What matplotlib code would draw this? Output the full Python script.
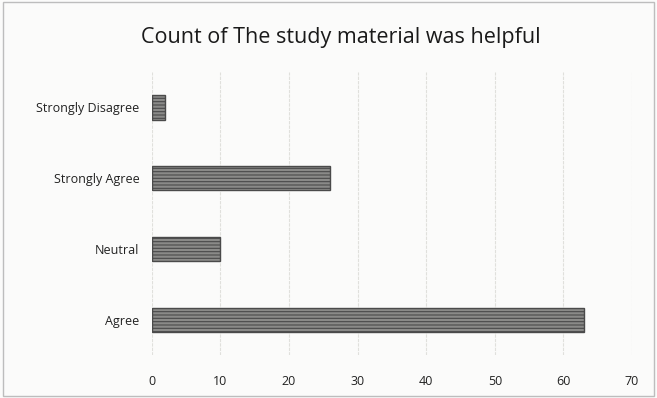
import numpy as np
import matplotlib.pyplot as plt
from matplotlib.patches import Rectangle

plt.rcParams['font.family'] = ['Open Sans', 'DejaVu Sans']
plt.rcParams['hatch.color'] = '#b4b4b0'
plt.rcParams['hatch.linewidth'] = 0.8

# respuestas y conteos
categorias = ['Agree', 'Neutral', 'Strongly Agree', 'Strongly Disagree']
conteos = [63, 10, 26, 2]
ticks_x = [0, 10, 20, 30, 40, 50, 60, 70]

fig = plt.figure(figsize=(6.57, 3.98), dpi=100)
fig.patch.set_facecolor('#fbfbfa')
ax = fig.add_axes([0.231, 0.107, 0.731, 0.713])
ax.set_facecolor('#fbfbfa')

y = np.arange(len(categorias))
ax.barh(y, conteos, height=0.35, color='#8a8a88', edgecolor='#4a4a4a',
        linewidth=1.0, hatch='-----')

ax.set_xlim(0, 70)
ax.set_ylim(-0.5, 3.5)
ax.set_xticks(ticks_x)
ax.set_yticks(y)
ax.set_yticklabels(categorias)
ax.tick_params(axis='both', length=0, labelsize=9, colors='#222222')
ax.tick_params(axis='x', pad=14)
ax.tick_params(axis='y', pad=9)
ax.grid(axis='x', color='#e0e0dc', linewidth=0.8, linestyle=(0, (3, 1)))
ax.set_axisbelow(True)
for s in ax.spines.values():
    s.set_visible(False)

fig.text(0.518, 0.905, 'Count of The study material was helpful',
         ha='center', va='center', fontsize=15.5, color='#1a1a1a')

# borde del grafico
fig.patches.append(Rectangle((0.004, 0.006), 0.992, 0.99, transform=fig.transFigure,
                             fill=False, edgecolor='#bdbdbd', linewidth=1.0))

fig.savefig('out.png', dpi=100, facecolor=fig.get_facecolor())
